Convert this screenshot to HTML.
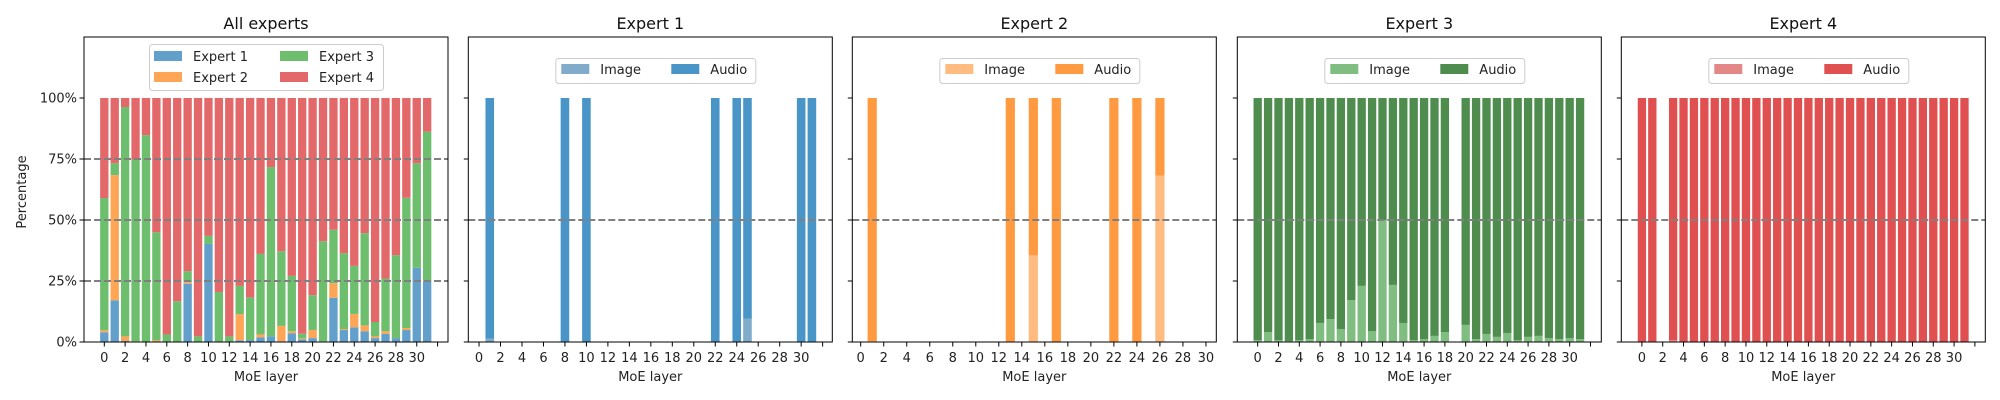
<!DOCTYPE html>
<html><head><meta charset="utf-8"><style>
body{margin:0;background:#fff;}
svg{display:block;font-family:"DejaVu Sans","Liberation Sans",sans-serif;}
</style></head><body>
<svg id="fig" width="2000" height="400" viewBox="0 0 2000 400" xmlns="http://www.w3.org/2000/svg"></svg>
<script>
// ---- data ----
const layers = Array.from({length:32},(_,i)=>i);
const allE1 = [4.0,17.1,0.4,0,0,0,0,0,23.9,0,40.2,0,0,0.7,0.8,1.9,2.3,0.3,3.6,1.1,1.6,0.3,18.1,4.9,6.0,4.4,1.6,3.3,1.6,4.9,30.4,25.0];
const allE2 = [0.8,51.3,1.9,0.3,0,0.7,0,0,0.6,0,0,0,0,10.7,0,1.2,0,6.3,0.8,0.4,3.3,0,6.0,0.4,5.5,2.4,0.7,1.1,0,0.8,0,0.2];
const allE3 = [54.2,4.9,94.0,74.5,84.8,44.3,3.1,16.7,4.5,2.3,3.3,20.5,2.3,11.6,17.5,33.0,69.4,30.6,22.7,1.9,14.3,41.0,21.9,31.1,19.7,37.8,5.9,21.6,34.0,53.4,42.9,61.0];
const e1Used  = [1,8,10,22,24,25,30,31];
const e1Image = [1.4,0,0,0,0,9.6,0,0];
const e2Used  = [1,13,15,17,22,24,26];
const e2Image = [0.3,0,35.5,0,0,0,68.2];
const e3Used  = [0,1,2,3,4,5,6,7,8,9,10,11,12,13,14,15,16,17,18,20,21,22,23,24,25,26,27,28,29,30,31];
const e3Image = [0.8,4.1,0.8,0.4,0.8,1.2,7.8,9.4,5.3,17.2,23,4.5,50,23.4,7.8,0.8,1.2,2.5,4.1,7,1.2,3.3,2.1,3.7,0.8,2.1,2.5,1.6,1.2,1.6,1.2];
const e4Used  = [0,1,3,4,5,6,7,8,9,10,11,12,13,14,15,16,17,18,19,20,21,22,23,24,25,26,27,28,29,30,31];
const e4Image = [0,0,0.8,0,0,0,0,0,0,0,0,0,0,0,0,0,0,0,0,0,0,0,0,0,0,0,0,0,0,0,0];
const yTicks = [0,25,50,75,100];
const yTickLabels = ["0%","25%","50%","75%","100%"];

const svg = document.getElementById('fig');
const NS='http://www.w3.org/2000/svg';
function mk(tag, attrs, parent){const e=document.createElementNS(NS,tag);for(const k in attrs)e.setAttribute(k,attrs[k]);(parent||svg).appendChild(e);return e;}

const TOP=37, BOT=342, W=364;
const panels=[
 {left:84, xmin:-1.95,xmax:33.0,title:'All experts',ticks32:true},
 {left:468.3,xmin:-1.0,xmax:32.9,title:'Expert 1',ticks32:true, used:e1Used,img:e1Image,ci:'#80abcb',ca:'#4a95c8'},
 {left:852.3,xmin:-0.73,xmax:30.9,title:'Expert 2',ticks32:false,used:e2Used,img:e2Image,ci:'#ffbb80',ca:'#ff9a40'},
 {left:1237.3,xmin:-1.96,xmax:33.04,title:'Expert 3',ticks32:true,used:e3Used,img:e3Image,ci:'#80bd80',ca:'#4f8d4f'},
 {left:1621.3,xmin:-1.98,xmax:33.0,title:'Expert 4',ticks32:true,used:e4Used,img:e4Image,ci:'#e38787',ca:'#e05050'}
];
function yS(v){return BOT-(v/125)*(BOT-TOP);}

panels.forEach((p,pi)=>{
  const g=mk('g',{});
  
  
  const xS=v=>p.left+(v-p.xmin)/(p.xmax-p.xmin)*W;
  const bw=0.8*W/(p.xmax-p.xmin);
  function bar(i,y0,y1,fill,name){
    if(y1-y0<=0)return;
    const r=mk('rect',{x:xS(i)-bw/2,y:yS(y1),width:bw,height:yS(y0)-yS(y1),fill:fill},g);
    
    
  }
  if(pi===0){
    layers.forEach(i=>{
      const a=allE1[i],b=a+allE2[i],c=b+allE3[i];
      bar(i,0,a,'#629fca','bar-expert1-layer'+i);
      bar(i,a,b,'#ffa556','bar-expert2-layer'+i);
      bar(i,b,c,'#6dbf6d','bar-expert3-layer'+i);
      bar(i,c,100,'#e36869','bar-expert4-layer'+i);
    });
  } else {
    p.used.forEach((l,k)=>{
      bar(l,0,p.img[k],p.ci,'bar-image-layer'+l);
      bar(l,p.img[k],100,p.ca,'bar-audio-layer'+l);
    });
  }
  // dashed lines
  const dl = pi===0?[25,50,75]:[50];
  dl.forEach(v=>{const l=mk('line',{x1:p.left,x2:p.left+W,y1:yS(v),y2:yS(v),stroke:'#808080','stroke-width':2,'stroke-dasharray':'7,3'},g);
    
    });
  // frame
  const fr=mk('rect',{x:p.left,y:TOP,width:W,height:BOT-TOP,fill:'none',stroke:'#000','stroke-width':1},g);
  
  
  // y ticks
  yTicks.forEach((v,k)=>{
    mk('line',{x1:p.left-4.5,x2:p.left,y1:yS(v),y2:yS(v),stroke:'#000','stroke-width':1},g);
    if(pi===0){const t=mk('text',{x:p.left-7,y:yS(v)+4.5,'text-anchor':'end','font-size':13,fill:'#222'},g);t.textContent=yTickLabels[k];
      
      }
  });
  // x ticks
  const maxT = p.ticks32?32:30;
  for(let v=0;v<=maxT;v+=2){
    mk('line',{x1:xS(v),x2:xS(v),y1:BOT,y2:BOT+4.5,stroke:'#000','stroke-width':1},g);
    if(v<=30){const t=mk('text',{x:xS(v),y:BOT+20,'text-anchor':'middle','font-size':13,fill:'#222'},g);t.textContent=v;
      
      }
  }
  const xl=mk('text',{x:p.left+W/2,y:381,'text-anchor':'middle','font-size':13,fill:'#222'},g);xl.textContent='MoE layer';
  
  
  const tt=mk('text',{x:p.left+W/2,y:29,'text-anchor':'middle','font-size':16,fill:'#111'},g);tt.textContent=p.title;
  
  
  // legend
  const lg=mk('g',{},g);
  
  
  if(pi===0){
    mk('rect',{x:149.5,y:44.5,width:234,height:46,rx:3,fill:'#fff','fill-opacity':0.8,stroke:'#ccc'},lg);
    const ents=[['Expert 1','#629fca',154,56],['Expert 2','#ffa556',154,77],['Expert 3','#6dbf6d',280,56],['Expert 4','#e36869',280,77]];
    ents.forEach(e=>{mk('rect',{x:e[2],y:e[3]-5,width:28,height:10,fill:e[1]},lg);
      const t=mk('text',{x:e[2]+39,y:e[3]+5,'font-size':13,fill:'#222'},lg);t.textContent=e[0];
      
      });
  } else {
    const bx=p.left+87;
    mk('rect',{x:bx+0.5,y:58.5,width:200,height:25,rx:3,fill:'#fff','fill-opacity':0.8,stroke:'#ccc'},lg);
    mk('rect',{x:bx+6,y:64,width:28,height:10,fill:p.ci},lg);
    let t=mk('text',{x:bx+45,y:74,'font-size':13,fill:'#222'},lg);t.textContent='Image';
    
    
    mk('rect',{x:bx+116,y:64,width:28,height:10,fill:p.ca},lg);
    t=mk('text',{x:bx+155,y:74,'font-size':13,fill:'#222'},lg);t.textContent='Audio';
    
    
  }
});
const yl=mk('text',{x:0,y:0,'text-anchor':'middle','font-size':13,fill:'#222',transform:'translate(26,192) rotate(-90)'});
yl.textContent='Percentage';


</script>
</body></html>
